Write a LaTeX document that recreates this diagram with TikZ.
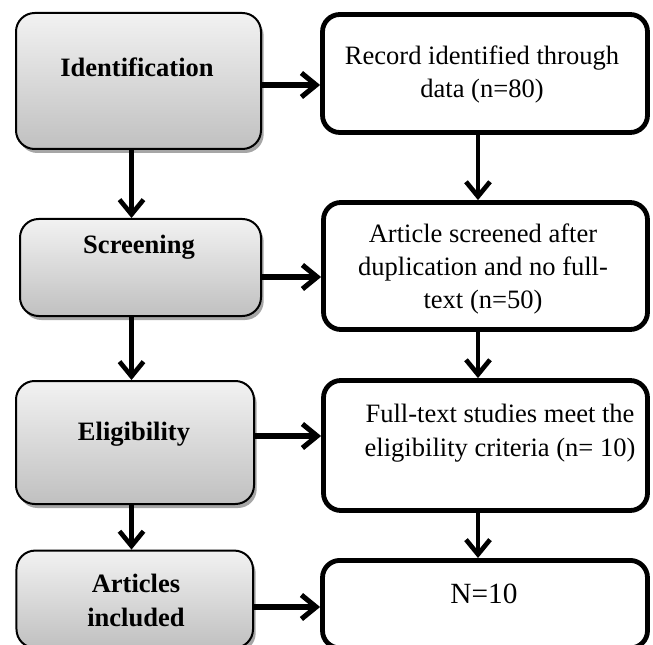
\documentclass[tikz,border=0pt]{standalone}
\usepackage{fontspec}
\setmainfont{Liberation Serif}
\usetikzlibrary{arrows.meta,shadows,calc}
\definecolor{gtop}{RGB}{242,242,242}
\definecolor{gbot}{RGB}{192,192,192}
\begin{document}
\begin{tikzpicture}[x=0.75pt,y=-0.75pt,
  stage/.style={draw=black, line width=1.5pt, rounded corners=14pt, top color=gtop, bottom color=gbot,
    drop shadow={shadow xshift=2pt, shadow yshift=-3pt, opacity=0.35, fill=black}},
  info/.style={draw=black, line width=3.6pt, rounded corners=13pt, fill=white},
  lab/.style={font=\fontsize{19.9pt}{25.5pt}\selectfont\bfseries, align=center, anchor=base, inner sep=0pt},
  txt/.style={font=\fontsize{19.9pt}{25pt}\selectfont, align=center, anchor=base, inner sep=0pt},
  arr/.style={line width=3.5pt, -{Straight Barb[length=11pt,width=18pt]}},
  harr/.style={line width=3.8pt, -{Straight Barb[length=11pt,width=18pt]}}]
\useasboundingbox (0,0) rectangle (653,645);
\clip (0,0) rectangle (653,645);
% left stage boxes
\node[stage, minimum width=183.75pt, minimum height=102pt] (ident) at (138.5,81) {};
\node[stage, minimum width=180.75pt, minimum height=72.75pt] (screen) at (140.5,267.5) {};
\node[stage, minimum width=178.5pt, minimum height=92.25pt] (elig) at (135,442.5) {};
\node[stage, minimum width=177.4pt, minimum height=73pt] (artic) at (134.75,599.25) {};
% right info boxes
\node[info, minimum width=243.75pt, minimum height=88.5pt] (rec) at (485,73.5) {};
\node[info, minimum width=243pt, minimum height=95.25pt] (scr) at (485.5,266) {};
\node[info, minimum width=243pt, minimum height=97.5pt] (elg) at (485.5,445.5) {};
\node[info, minimum width=243.75pt, minimum height=65.7pt] (nn) at (485,604.2) {};
% texts (base anchor = baseline of the last line)
\node[lab] (identT) at (137,77) {Identification};
\node[lab] (screenT) at (139,253) {Screening};
\node[lab] (eligT) at (134,440) {Eligibility};
\node[lab] (articT) at (136,626) {Articles\\included};
\node[txt] (recT) at (482,98) {Record identified through\\data (n=80)};
\node[txt] (scrT) at (483,309) {Article screened after\\duplication and no full-\\text (n=50)};
\node[txt] (elgT) at (500,456) {Full-text studies meet the\\eligibility criteria (n= 10)};
\node[txt, font=\fontsize{22pt}{26pt}\selectfont] (nnT) at (484,603) {N=10};
% connectors
\coordinate (colL) at (131.5,0);
\coordinate (colR) at (478,0);
\coordinate (h1) at (0,85);
\coordinate (h2) at (0,277);
\coordinate (h3) at (0,436);
\coordinate (h4) at (0,607);
\draw[arr] (ident.south -| colL) -- (screen.north -| colL);
\draw[arr] (screen.south -| colL) -- (elig.north -| colL);
\draw[arr] (elig.south -| colL) -- (artic.north -| colL);
\draw[arr] (rec.south -| colR) -- (scr.north -| colR);
\draw[arr] (scr.south -| colR) -- (elg.north -| colR);
\draw[arr] (elg.south -| colR) -- (nn.north -| colR);
\draw[harr] (ident.east |- h1) -- (rec.west |- h1);
\draw[harr] (screen.east |- h2) -- (scr.west |- h2);
\draw[harr] (elig.east |- h3) -- (elg.west |- h3);
\draw[harr] (artic.east |- h4) -- (nn.west |- h4);
\end{tikzpicture}
\end{document}
